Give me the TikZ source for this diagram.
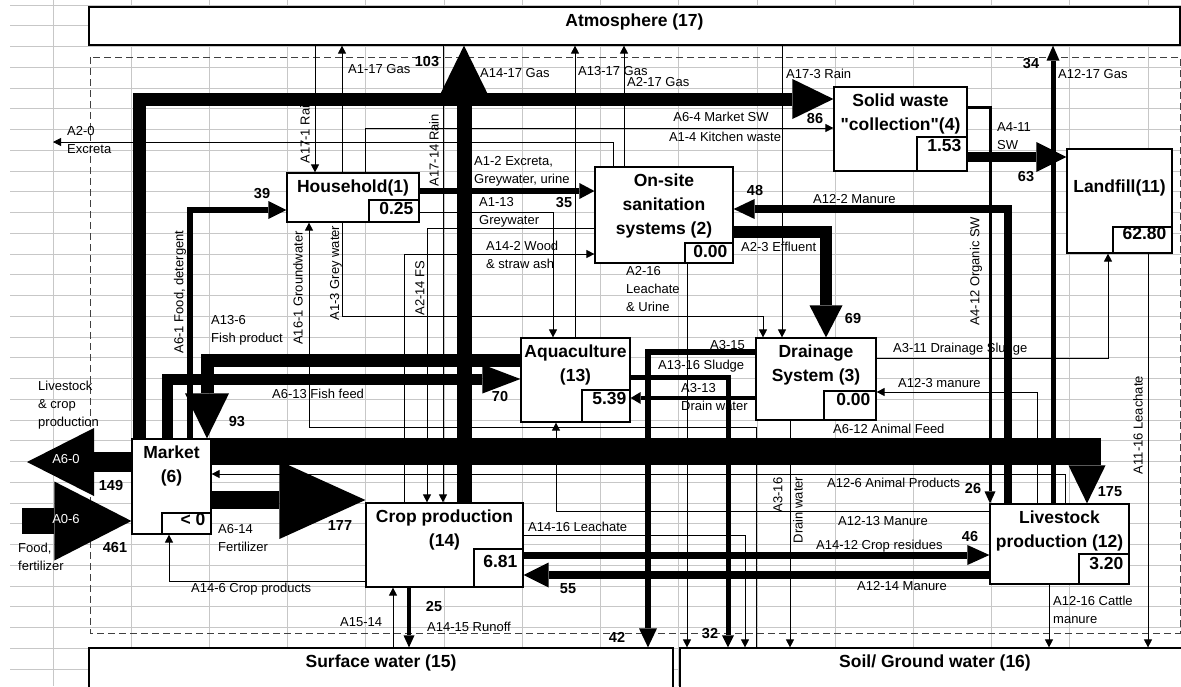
\documentclass[tikz,border=0pt]{standalone}
\usepackage{fontspec}
\setmainfont{Liberation Sans}
\newfontfamily\qtfont{Liberation Sans}
\usepackage{tikz}
\usetikzlibrary{arrows.meta,positioning}

\newcommand{\bxfont}{\fontsize{17.5}{24}\selectfont\bfseries}
\newcommand{\lblfont}{\fontsize{13}{18}\selectfont}
\newcommand{\numfont}{\fontsize{14.5}{16}\selectfont\bfseries}
\newcommand{\qt}{{\qtfont\bfseries"}}

\begin{document}
\begin{tikzpicture}[
  x=1pt, y=-1pt,
  font=\lblfont,
  >={Triangle[width=8pt,length=8pt]},
  box/.style={draw,line width=1.2pt,fill=white,inner sep=0pt},
  ttl/.style={anchor=north,font=\bxfont,align=center,inner xsep=2pt,inner ysep=7pt},
  val/.style={draw,line width=1.6pt,fill=white,inner sep=0pt},
  vtxt/.style={anchor=north east,font=\bxfont,inner xsep=6pt,inner ysep=3pt},
  lbl/.style={inner sep=0pt,align=left,font=\lblfont},
  num/.style={inner sep=0pt,font=\numfont},
  rot/.style={inner sep=0pt,rotate=90,font=\lblfont},
  flow/.style={line width=0.8pt,->},
  fat/.style n args={3}{line width=#1,-{Triangle[width=#2,length=#3,line width=0pt]}}]
\useasboundingbox (0,0) rectangle (1181,686);
\foreach \gx in {0,...,14}
  \draw[black!22,line width=0.8pt] ({53+78.22*\gx},0) -- ({53+78.22*\gx},686);
\foreach \gy in {0,...,32}
  \draw[black!22,line width=0.8pt] (10,{5+20.75*\gy}) -- (1181,{5+20.75*\gy});
\draw[black!75,line width=1pt,dash pattern=on 7pt off 4pt] (90,57) rectangle (1180,633);

% compartments
\node[box,minimum width=1091pt,minimum height=38pt,label={[ttl]north:{Atmosphere (17)}}] (atm) at (634.5,26) {};
\node[box,minimum width=584pt,minimum height=60pt,label={[ttl]north:{Surface water (15)}}] (sfw) at (381,678) {};
\node[box,minimum width=510pt,minimum height=60pt,label={[ttl]north:{Soil/ Ground water (16)}}] (soil) at (935,678) {};

\node[box,minimum width=132pt,minimum height=49pt,label={[ttl]north:{Household(1)}}] (hh) at (353,197.5) {};
\node[val,minimum width=50pt,minimum height=22pt,above left=0pt and 0pt of hh.south east,label={[vtxt]north east:0.25}] (hhv) {};
\node[box,minimum width=138pt,minimum height=96pt,label={[ttl]north:{On-site\\sanitation\\systems (2)}}] (os) at (664,215) {};
\node[val,minimum width=48pt,minimum height=20pt,above left=0pt and 0pt of os.south east,label={[vtxt]north east:0.00}] (osv) {};
\node[box,minimum width=133pt,minimum height=84pt,label={[ttl]north:{Solid waste\\\qt collection\qt(4)}}] (sw) at (900.5,129) {};
\node[val,minimum width=50pt,minimum height=34pt,above left=0pt and 0pt of sw.south east,label={[vtxt]north east:1.53}] (swv) {};
\node[box,minimum width=105pt,minimum height=104pt,label={[ttl,yshift=-24pt]north:{Landfill(11)}}] (lf) at (1119.5,201) {};
\node[val,minimum width=59pt,minimum height=26pt,above left=0pt and 0pt of lf.south east,label={[vtxt,inner ysep=1pt]north east:62.80}] (lfv) {};
\node[box,minimum width=120pt,minimum height=82pt,label={[ttl]north:{Drainage\\System (3)}}] (dr) at (816,379) {};
\node[val,minimum width=52pt,minimum height=29pt,above left=0pt and 0pt of dr.south east,label={[vtxt]north east:0.00}] (drv) {};
\node[box,minimum width=109pt,minimum height=84pt,label={[ttl]north:{Aquaculture\\(13)}}] (aq) at (575.5,380) {};
\node[val,minimum width=48pt,minimum height=32pt,above left=0pt and 0pt of aq.south east,label={[vtxt,inner xsep=4pt]north east:5.39}] (aqv) {};
\node[box,minimum width=79pt,minimum height=95pt,label={[ttl]north:{Market\\(6)}}] (mk) at (171.5,486.5) {};
\node[val,minimum width=49pt,minimum height=21pt,above left=0pt and 0pt of mk.south east,label={[vtxt,inner ysep=1pt]north east:< 0}] (mkv) {};
\node[box,minimum width=157pt,minimum height=84pt,label={[ttl]north:{Crop production\\(14)}}] (cp) at (444.5,545) {};
\node[val,minimum width=49pt,minimum height=38pt,above left=0pt and 0pt of cp.south east,label={[vtxt,inner ysep=7pt]north east:6.81}] (cpv) {};
\node[box,minimum width=139pt,minimum height=80pt,label={[ttl]north:{Livestock\\production (12)}}] (lv) at (1059.5,544) {};
\node[val,minimum width=50pt,minimum height=30pt,above left=0pt and 0pt of lv.south east,label={[vtxt,inner ysep=4pt]north east:3.20}] (lvv) {};

\coordinate (exc) at (53,142);
\coordinate (exp) at (27,462);
\coordinate (imp) at (22,521);

% thin flows
\draw[flow] (atm.south -| 315,0) -- (hh.north -| 315,0);
\draw[flow] (hh.north -| 342,0) -- (atm.south -| 342,0);
\draw[flow] (atm.south -| 443,0) -- (cp.north -| 443,0);
\draw[flow] (aq.north -| 575,0) -- (atm.south -| 575,0);
\draw[flow] (os.north -| 624,0) -- (atm.south -| 624,0);
\draw[flow] (atm.south -| 782,0) -- (dr.north -| 782,0);
\draw[flow] (hh.north -| 365,0) -- (365,128) -- (sw.west |- 0,128);
\draw[flow] (os.north -| 613,0) -- (613,142) -- (exc);
\draw[flow] (hh.east |- 0,212) -- (553,212) -- (aq.north -| 553,0);
\draw[flow] (os.west |- 0,228) -- (427,228) -- (cp.north -| 427,0);
\draw[flow] (cp.north -| 404,0) -- (404,254) -- (os.west |- 0,254);
\draw[flow] (hh.south -| 342,0) -- (342,316) -- (763,316) -- (dr.north -| 763,0);
\draw[flow] (soil.north -| 756,0) -- (756,427) -- (309,427) -- (hh.south -| 309,0);
\draw[flow] (os.south -| 687,0) -- (soil.north -| 687,0);
\draw[flow] (dr.east |- 0,358) -- (1108,358) -- (lf.south -| 1108,0);
\draw[flow] (lv.north -| 1037,0) -- (1037,392) -- (dr.east |- 0,392);
\draw[flow] (lv.north -| 1065,0) -- (1065,474) -- (mk.east |- 0,474);
\draw[flow] (dr.south -| 790,0) -- (soil.north -| 790,0);
\draw[flow] (cp.east |- 0,535) -- (745,535) -- (soil.north -| 745,0);
\draw[flow] (lv.west |- 0,511) -- (556,511) -- (aq.south -| 556,0);
\draw[flow] (cp.west |- 0,581) -- (169,581) -- (mk.south -| 169,0);
\draw[flow] (sfw.north -| 393,0) -- (cp.south -| 393,0);
\draw[flow] (lv.south -| 1049,0) -- (soil.north -| 1049,0);
\draw[flow] (lf.south -| 1148,0) -- (soil.north -| 1148,0);

% thick flows
\draw[fat={13pt}{40pt}{41pt}] (mk.north -| 139,0) -- (139,99) -- (sw.west |- 0,99);
\draw[fat={15pt}{48pt}{49pt}] (cp.north -| 464,0) -- (atm.south -| 464,0);
\draw[fat={5.5pt}{18pt}{18pt}] (mk.north -| 190,0) -- (190,210) -- (hh.west |- 0,210);
\draw[fat={11pt}{29pt}{38pt}] (mk.north -| 167,0) -- (167,379) -- (aq.west |- 0,379);
\draw[fat={13pt}{44pt}{45pt}] (aq.west |- 0,360) -- (207,360) -- (mk.north -| 207,0);
\draw[fat={27pt}{37pt}{38pt}] (mk.east |- 0,451.5) -- (1087,451.5) -- (lv.north -| 1087,0);
\draw[fat={18pt}{78pt}{86pt}] (mk.east |- 0,500) -- (cp.west |- 0,500);
\draw[fat={20pt}{68pt}{67pt}] (mk.west |- 0,462) -- (exp);
\draw[fat={26pt}{79pt}{77pt}] (imp) -- (mk.west |- 0,521);
\draw[fat={6pt}{16pt}{15pt}] (hh.east |- 0,191) -- (os.west |- 0,191);
\draw[fat={8pt}{20pt}{21pt}] (lv.north -| 1008,0) -- (1008,209) -- (os.east |- 0,209);
\draw[fat={12pt}{33pt}{32pt}] (os.east |- 0,232) -- (826,232) -- (dr.north -| 826,0);
\draw[fat={10pt}{30pt}{30pt}] (sw.east |- 0,157) -- (lf.west |- 0,157);
\draw[fat={3pt}{11pt}{12pt}] (sw.east |- 0,107) -- (990,107) -- (lv.north -| 990,0);
\draw[fat={5pt}{13pt}{15pt}] (lv.north -| 1053,0) -- (atm.south -| 1053,0);
\draw[fat={5.5pt}{18pt}{19pt}] (dr.west |- 0,352) -- (648,352) -- (sfw.north -| 648,0);
\draw[fat={5pt}{12pt}{12pt}] (aq.east |- 0,377) -- (728,377) -- (soil.north -| 728,0);
\draw[fat={4pt}{12pt}{10pt}] (dr.west |- 0,398) -- (aq.east |- 0,398);
\draw[fat={7pt}{20pt}{22pt}] (cp.east |- 0,555) -- (lv.west |- 0,555);
\draw[fat={8pt}{25pt}{25pt}] (lv.west |- 0,575) -- (cp.east |- 0,575);
\draw[fat={4pt}{11pt}{12pt}] (cp.south -| 409,0) -- (sfw.north -| 409,0);

% flow labels
\node[lbl,anchor=west] (t-a117) at (348,69) {A1-17 Gas};
\node[lbl,anchor=west] (t-a1417) at (480,73) {A14-17 Gas};
\node[lbl,anchor=west] (t-a1317) at (578,71) {A13-17 Gas};
\node[lbl,anchor=west] (t-a217) at (627,82) {A2-17 Gas};
\node[lbl,anchor=west] (t-a173) at (786,74) {A17-3 Rain};
\node[lbl,anchor=west] (t-a1217) at (1058,74) {A12-17 Gas};
\node[lbl] (t-a64) at (721,117) {A6-4 Market SW};
\node[lbl] (t-a14) at (725,137) {A1-4 Kitchen waste};
\node[lbl,anchor=west] (t-a122) at (813,199) {A12-2 Manure};
\node[lbl,anchor=west] (t-a23) at (741,247) {A2-3 Effluent};
\node[lbl,anchor=west] (t-a315) at (710,345) {A3-15};
\node[lbl,anchor=west] (t-a311) at (893,349) {A3-11 Drainage Sludge};
\node[lbl,anchor=west] (t-a1316) at (658,366) {A13-16 Sludge};
\node[lbl,anchor=west] (t-a123) at (898,383) {A12-3 manure};
\node[lbl,anchor=west] (t-a613) at (272,394) {A6-13 Fish feed};
\node[lbl,anchor=west] (t-a612) at (833,429) {A6-12 Animal Feed};
\node[lbl,anchor=west] (t-a126) at (827,483) {A12-6 Animal Products};
\node[lbl,anchor=west] (t-a1213) at (838,521) {A12-13 Manure};
\node[lbl,anchor=west] (t-a1416) at (528,527) {A14-16 Leachate};
\node[lbl,anchor=west] (t-a1412) at (816,546) {A14-12 Crop residues};
\node[lbl,anchor=west] (t-a1214) at (857,586) {A12-14 Manure};
\node[lbl,anchor=west] (t-a146) at (191,589) {A14-6 Crop products};
\node[lbl,anchor=west] (t-a1514) at (340,622) {A15-14};
\node[lbl,anchor=west] (t-a1415) at (427,627) {A14-15 Runoff};
\node[lbl,anchor=west] (t-a20) at (67,140) {A2-0\\Excreta};
\node[lbl,anchor=west] (t-a12) at (474,171.5) {A1-2 Excreta,\\Greywater, urine};
\node[lbl,anchor=west] (t-a113) at (479,212) {A1-13\\Greywater};
\node[lbl,anchor=west] (t-a411) at (997,136.5) {A4-11\\SW};
\node[lbl,anchor=west] (t-a142) at (486,255) {A14-2 Wood\\\& straw ash};
\node[lbl,anchor=west] (t-a136) at (211,330) {A13-6\\Fish product};
\node[lbl,anchor=west] (t-a313) at (681,397) {A3-13\\Drain water};
\node[lbl,anchor=west] (t-a614) at (218,538.5) {A6-14\\Fertilizer};
\node[lbl,anchor=west] (t-a1216) at (1053,610) {A12-16 Cattle\\manure};
\node[lbl,anchor=west] (t-a06) at (18,556.5) {Food,\\fertilizer};
\node[lbl,anchor=west] (t-a216) at (626,289) {A2-16\\Leachate\\\& Urine};
\node[lbl,anchor=west] (t-a60) at (38,405) {Livestock\\\& crop\\production};
\node[rot] (t-a171) at (305,131) {A17-1 Rain};
\node[rot] (t-a1714) at (434,150) {A17-14 Rain};
\node[rot] (t-a61) at (180,292) {A6-1 Food, detergent};
\node[rot] (t-a161) at (298,288) {A16-1 Groundwater};
\node[rot] (t-a13) at (336,273) {A1-3 Grey water};
\node[rot] (t-a214) at (420,288) {A2-14 FS};
\node[rot] (t-a412) at (976,271) {A4-12 Organic SW};
\node[rot] (t-a1116) at (1138,425) {A11-16 Leachate};
\node[rot] (t-a316) at (778,495) {A3-16};
\node[rot] (t-a316b) at (798,510) {Drain water};
\node[lbl,text=white] (w-a60) at (66,459) {A6-0};
\node[lbl,text=white] (w-a06) at (66,519) {A0-6};

% flow values
\node[num] (n103) at (427,62) {103};
\node[num] (n34) at (1031,64) {34};
\node[num] (n86) at (815,119) {86};
\node[num] (n39) at (262,194) {39};
\node[num] (n35) at (564,203) {35};
\node[num] (n48) at (755,191) {48};
\node[num] (n63) at (1026,177) {63};
\node[num] (n69) at (853,319) {69};
\node[num] (n70) at (500,397) {70};
\node[num] (n93) at (237,422) {93};
\node[num] (n149) at (111,486) {149};
\node[num] (n461) at (115,547) {461};
\node[num] (n177) at (340,526) {177};
\node[num] (n26) at (973,489) {26};
\node[num] (n175) at (1110,492) {175};
\node[num] (n46) at (970,536) {46};
\node[num] (n55) at (568,589) {55};
\node[num] (n25) at (434,606) {25};
\node[num] (n42) at (617,637) {42};
\node[num] (n32) at (710,634) {32};
\end{tikzpicture}
\end{document}
